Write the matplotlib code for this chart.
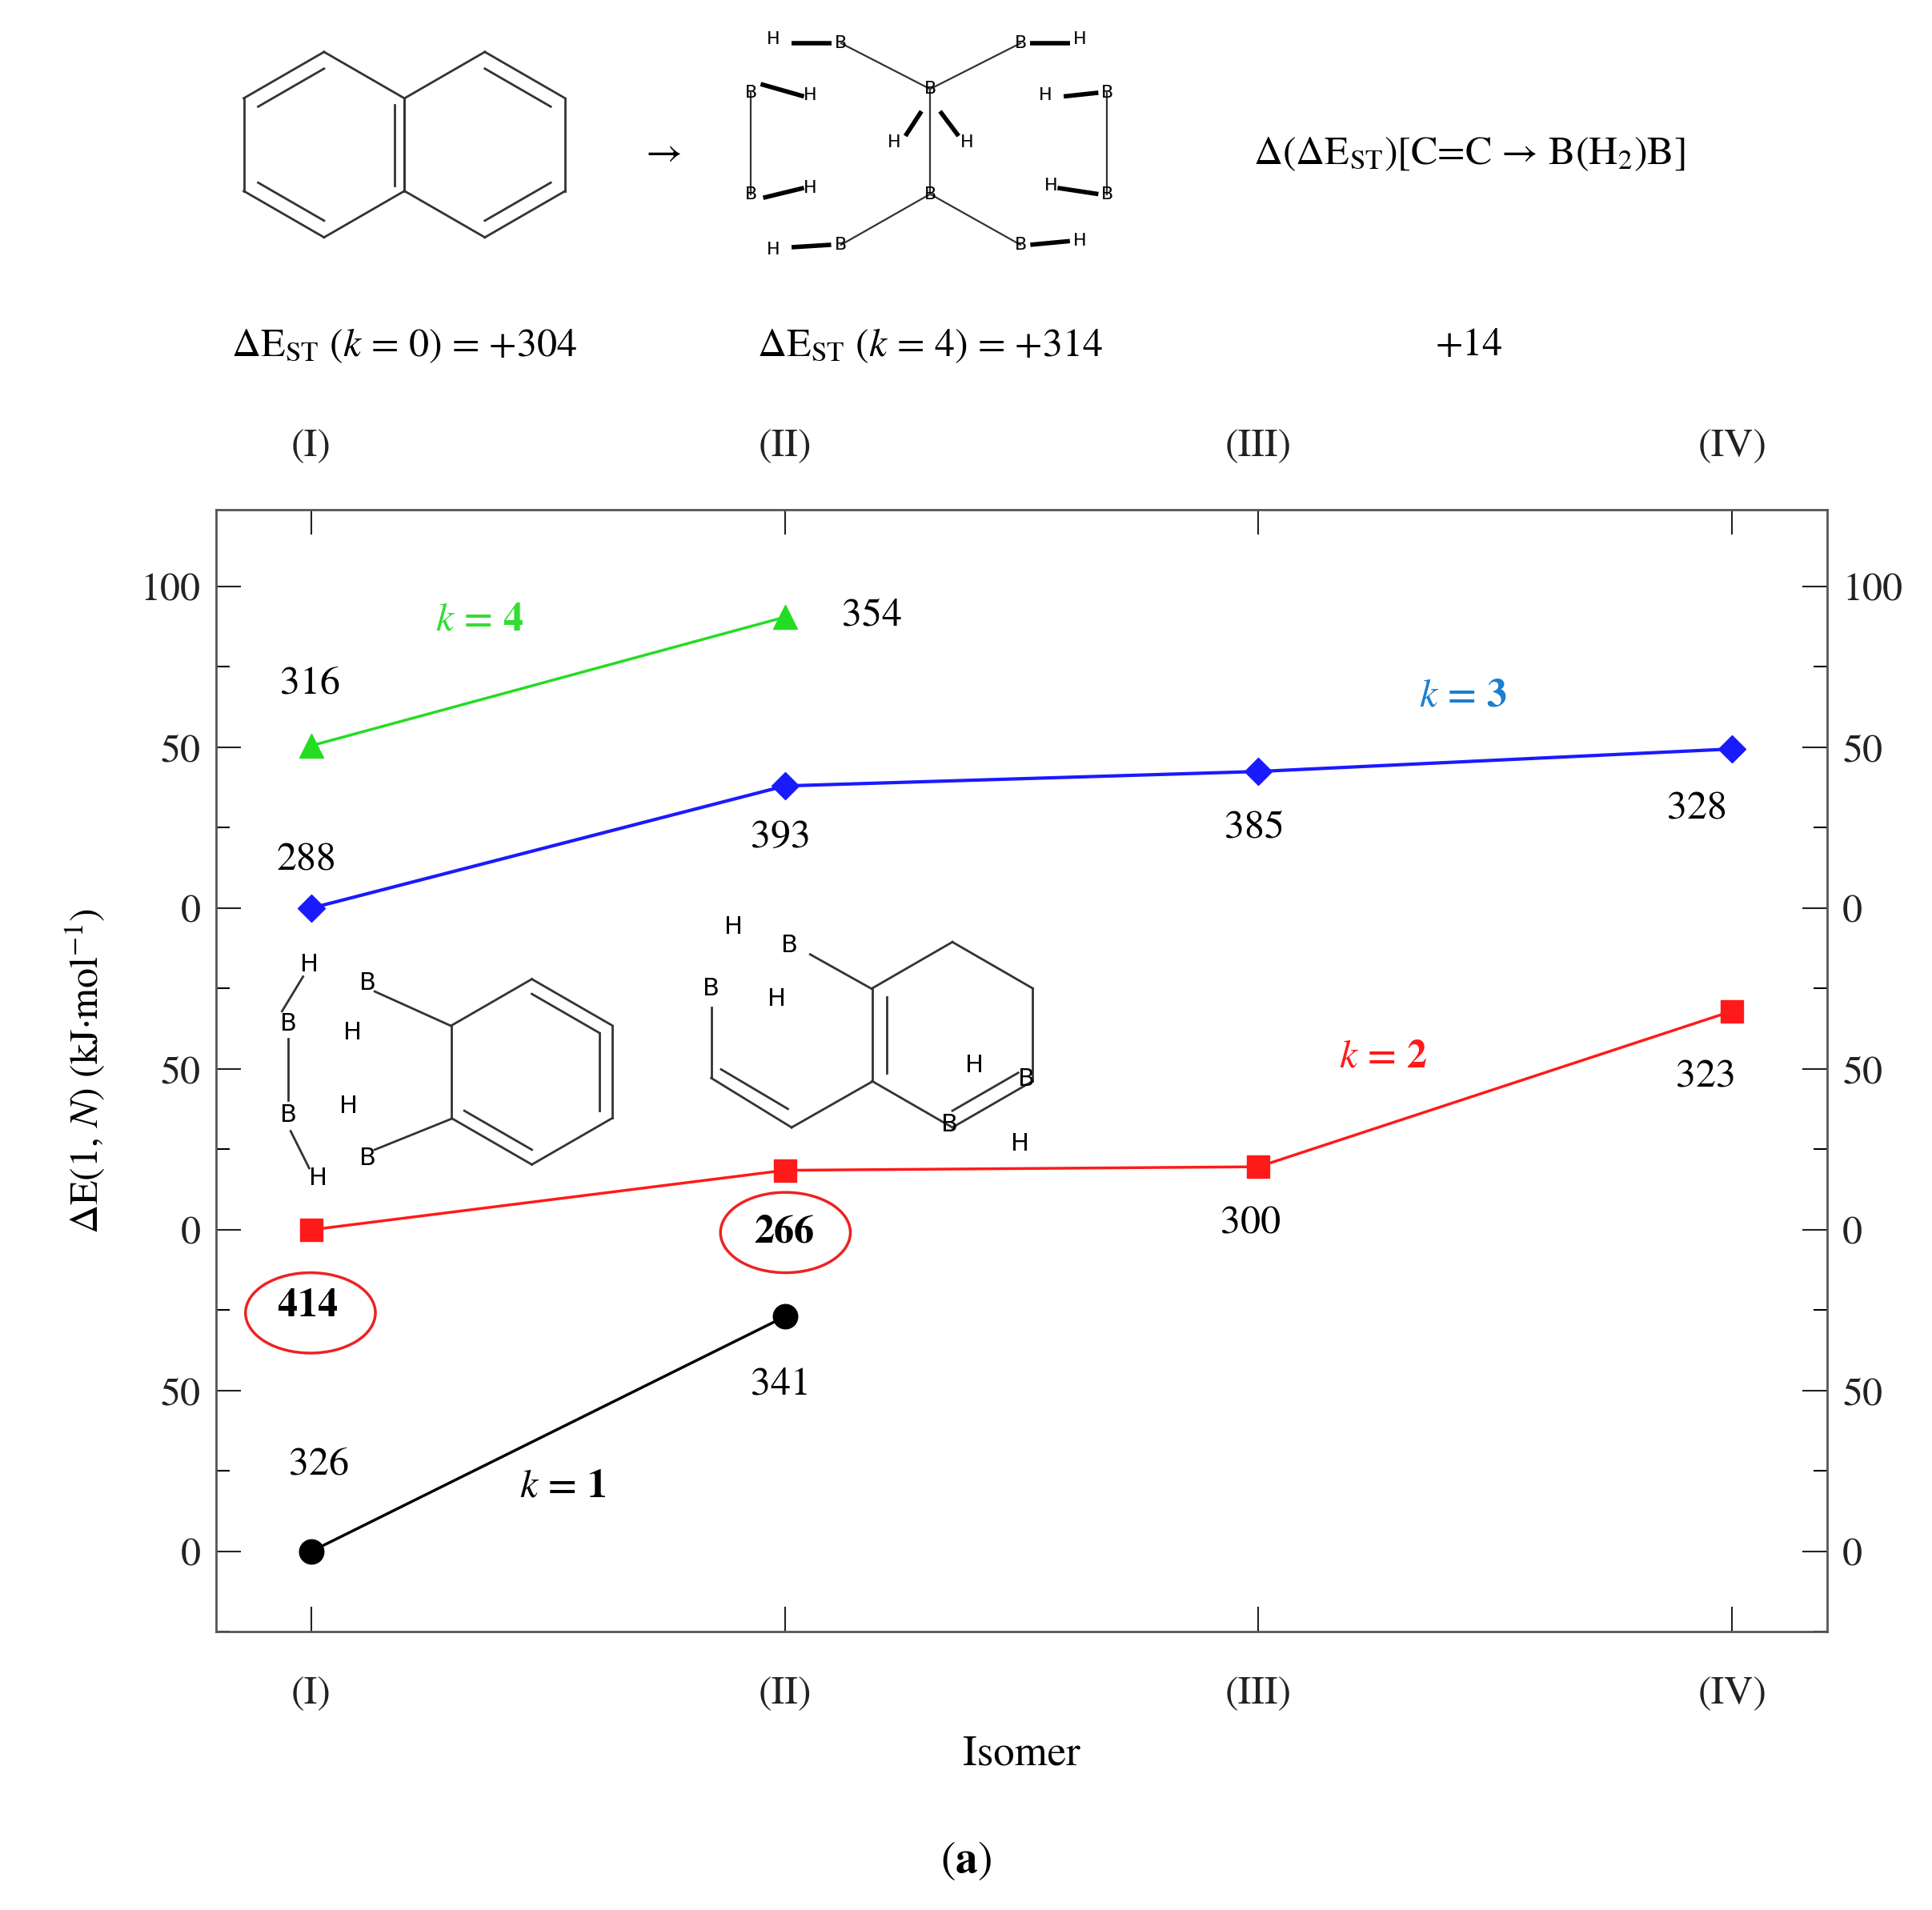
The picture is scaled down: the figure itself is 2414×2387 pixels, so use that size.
import matplotlib
matplotlib.use("Agg")
import matplotlib.pyplot as plt
from matplotlib.patches import Ellipse
import numpy as np

plt.rcParams["font.family"] = "STIXGeneral"
plt.rcParams["mathtext.fontset"] = "stix"

# ─── Datos ──────────────────────────────────────────────────────────────────
isomers = [1, 2, 3, 4]
iso_labels = ["(I)", "(II)", "(III)", "(IV)"]
k1_x, k1_y = [1, 2], [0, 73]
k2_x, k2_y = [1, 2, 3, 4], [100, 118.5, 119.6, 168]
k3_x, k3_y = [1, 2, 3, 4], [200, 238, 242.5, 249.5]
k4_x, k4_y = [1, 2], [250.5, 290.5]
ytick_pos = [0, 50, 100, 150, 200, 250, 300]
ytick_lab = ["0", "50", "0", "50", "0", "50", "100"]

W, H = 1562, 1545
fig = plt.figure(figsize=(24.14, 23.87), dpi=100)
ax = fig.add_axes([175 / W, 1 - 1320 / H, (1477 - 175) / W, (1320 - 412) / H])
ax.set_xlim(0.8, 4.2)
ax.set_ylim(-25, 324)

ax.plot(k1_x, k1_y, color="black", lw=2.5, marker="o", ms=22)
ax.plot(k2_x, k2_y, color="#ff1a1a", lw=2.5, marker="s", ms=20)
ax.plot(k3_x, k3_y, color="#1a1aff", lw=3, marker="D", ms=17)
ax.plot(k4_x, k4_y, color="#22dd22", lw=2.5, marker="^", ms=22)

ax.set_yticks(ytick_pos)
ax.set_yticklabels(ytick_lab)
ax.set_yticks(np.arange(-25, 325, 25), minor=True)
ax.set_xticks(isomers)
ax.set_xticklabels(iso_labels)
ax.tick_params(axis="both", which="major", labelsize=36, length=22, width=1.5,
               direction="in", top=True, right=True, labelright=True, labeltop=True,
               pad=14, colors="#222222")
ax.tick_params(axis="y", which="minor", length=12, width=1.5, direction="in", right=True)
ax.tick_params(axis="x", which="major", pad=40)
for s in ax.spines.values():
    s.set_linewidth(2)
    s.set_edgecolor("#555555")
ax.set_xlabel("Isomer", fontsize=38, labelpad=20)
ax.set_ylabel(r"ΔE(1, $N$) (kJ·mol$^{-1}$)", fontsize=36, labelpad=30)

# ─── Capa superior (coordenadas de píxel) ───────────────────────────────────
ov = fig.add_axes([0, 0, 1, 1], zorder=5)
ov.set_xlim(0, W)
ov.set_ylim(H, 0)
ov.axis("off")
ov.patch.set_alpha(0)

def t(x, y, s, **kw):
    kw.setdefault("fontsize", 36)
    ov.text(x, y, s, ha="center", va="center", **kw)

for x, y, s in [(251, 553, "316"), (705, 498, "354"), (248, 696, "288"),
                (631, 678, "393"), (1014, 670, "385"), (1372, 655, "328"),
                (1011, 990, "300"), (1379, 872, "323"), (258, 1185, "326"),
                (631, 1120, "341")]:
    t(x, y, s)
t(249, 1057, "414", fontweight="bold")
t(634, 997, "266", fontweight="bold")
for cx, cy in [(251, 1062), (635, 997)]:
    ov.add_patch(Ellipse((cx, cy), 105, 65, fill=False, ec="#ee2222", lw=2.5))
t(388, 502, r"$k$ = 4", color="#33dd33", fontweight="bold")
t(1183, 563, r"$k$ = 3", color="#1a7fd0", fontweight="bold")
t(1118, 855, r"$k$ = 2", color="#ff1a1a", fontweight="bold")
t(455, 1203, r"$k$ = 1", color="black", fontweight="bold")
t(781, 1505, r"($\mathbf{a}$)", fontsize=40)

t(327, 280, r"ΔE$_{\rm ST}$ ($k$ = 0) = +304")
t(752, 280, r"ΔE$_{\rm ST}$ ($k$ = 4) = +314")
t(1188, 280, "+14")
t(1188, 125, r"Δ(ΔE$_{\rm ST}$)[C=C → B(H$_2$)B]")
t(537, 125, "→")

def hexagon(cx, cy, r, dbl, shrink=0.82):
    ang = np.radians([90, 30, -30, -90, -150, 150])
    vx = cx + r * np.cos(ang)
    vy = cy - r * np.sin(ang)
    for i in range(6):
        j = (i + 1) % 6
        ov.plot([vx[i], vx[j]], [vy[i], vy[j]], color="#333333", lw=2)
        if i in dbl:
            ix = cx + (np.array([vx[i], vx[j]]) - cx) * shrink
            iy = cy + (np.array([vy[i], vy[j]]) - cy) * shrink
            ov.plot(ix, iy, color="#333333", lw=2)
    return vx, vy

# naftaleno
hexagon(262, 117, 75, [3, 5])
hexagon(392, 117, 75, [0, 2])
ov.plot([319, 319], [85, 150], color="#333333", lw=2)

# estructura con puentes B(H2)B arriba
bx = [680, 607, 752, 825, 895, 607, 680, 752, 825, 895]
by = [35, 75, 72, 35, 75, 157, 198, 157, 198, 157]
bonds = [(0, 2), (2, 3), (1, 5), (4, 9), (2, 7), (6, 7), (7, 8)]
for a, b in bonds:
    ov.plot([bx[a], bx[b]], [by[a], by[b]], color="#333333", lw=1.6)
for x, y in zip(bx, by):
    t(x, y, "B", fontsize=16, family="DejaVu Sans")
for x, y in [(625, 32), (655, 77), (625, 202), (655, 152), (873, 32), (845, 77),
             (873, 195), (850, 150), (723, 115), (782, 115)]:
    t(x, y, "H", fontsize=16, family="DejaVu Sans")
for (x0, y0, x1, y1) in [(640, 35, 672, 35), (615, 68, 650, 78), (617, 160, 650, 152),
                         (640, 200, 672, 198), (833, 35, 865, 35), (860, 78, 888, 75),
                         (855, 152, 888, 157), (833, 198, 865, 195), (745, 90, 732, 110),
                         (760, 90, 775, 110)]:
    ov.plot([x0, x1], [y0, y1], color="black", lw=4, solid_capstyle="butt")

# insertos
hexagon(430, 867, 75, [1, 3, 0], shrink=0.84)
for (x0, y0, x1, y1) in [(303, 802, 365, 830), (303, 930, 365, 905), (233, 840, 233, 890),
                         (245, 790, 228, 818), (250, 945, 235, 915)]:
    ov.plot([x0, x1], [y0, y1], color="#333333", lw=2)
for x, y, s in [(297, 795, "B"), (233, 828, "B"), (233, 902, "B"), (297, 937, "B"),
                (250, 780, "H"), (285, 835, "H"), (282, 895, "H"), (257, 953, "H")]:
    t(x, y, s, fontsize=22, family="DejaVu Sans")

hexagon(770, 837, 75, [2, 4])
for (x0, y0, x1, y1) in [(575, 815, 575, 872), (575, 872, 640, 912), (640, 912, 705, 875),
                         (705, 800, 655, 772), (583, 865, 637, 897)]:
    ov.plot([x0, x1], [y0, y1], color="#333333", lw=2)
for x, y, s in [(638, 765, "B"), (575, 800, "B"), (830, 873, "B"), (768, 910, "B"),
                (593, 750, "H"), (628, 808, "H"), (788, 862, "H"), (825, 925, "H")]:
    t(x, y, s, fontsize=22, family="DejaVu Sans")

fig.savefig("out.png", dpi=100)
